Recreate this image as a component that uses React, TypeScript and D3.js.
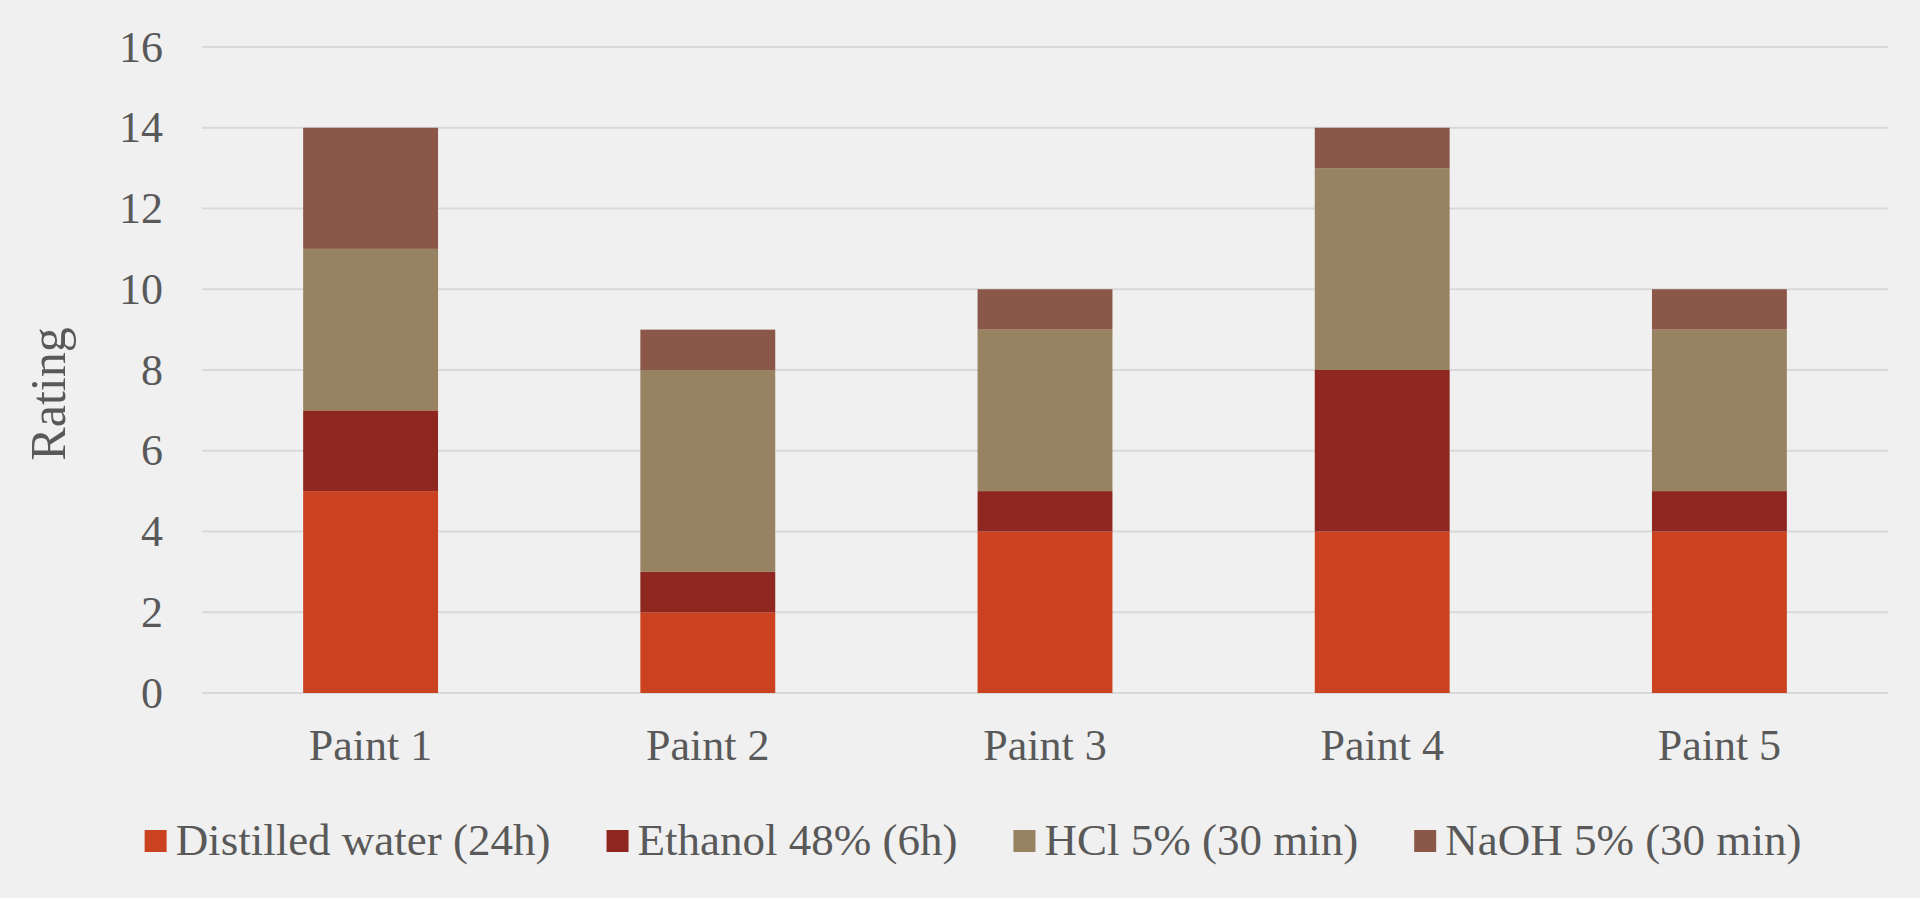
import { useEffect, useRef } from "react";
import * as d3 from "d3";

// Dados
const categorias = ["Paint 1", "Paint 2", "Paint 3", "Paint 4", "Paint 5"];
const series = [
  "Distilled water (24h)",
  "Ethanol 48% (6h)",
  "HCl 5% (30 min)",
  "NaOH 5% (30 min)"
];
const aguaDestilada = [5, 2, 4, 4, 4];
const etanol = [2, 1, 1, 4, 1];
const hcl = [4, 5, 4, 5, 4];
const naoh = [3, 1, 1, 1, 1];
const yTicks = [0, 2, 4, 6, 8, 10, 12, 14, 16];

const CORES = ["#CA4220", "#8E271F", "#978262", "#8A5748"];
const FONTE = "'Liberation Serif', 'Times New Roman', serif";
const COR_TEXTO = "#595959";

const App = () => {
  const svgRef = useRef<SVGSVGElement>(null);

  useEffect(() => {
    if (!svgRef.current) return;
    document.body.style.margin = "0";

    const width = 1920;
    const height = 898;
    const margin = { top: 47, right: 32, bottom: 205, left: 202 };
    const innerWidth = width - margin.left - margin.right;
    const innerHeight = height - margin.top - margin.bottom;

    const svg = d3.select(svgRef.current);
    svg.selectAll("*").remove();

    svg.append("rect")
      .attr("width", width)
      .attr("height", height)
      .attr("fill", "#F0F0F0");

    const g = svg.append("g")
      .attr("transform", `translate(${margin.left},${margin.top})`);

    const xScale = d3.scaleBand()
      .domain(categorias)
      .range([0, innerWidth])
      .paddingInner(0.6)
      .paddingOuter(0.3);

    const yScale = d3.scaleLinear()
      .domain([0, 16])
      .range([innerHeight, 0]);

    // Grade horizontal
    g.append("g")
      .selectAll("line")
      .data(yTicks)
      .enter()
      .append("line")
      .attr("x1", 0)
      .attr("x2", innerWidth)
      .attr("y1", (d) => yScale(d))
      .attr("y2", (d) => yScale(d))
      .attr("stroke", "#D9D9D9")
      .attr("stroke-width", 2);

    // Rótulos do eixo Y
    g.append("g")
      .selectAll("text")
      .data(yTicks)
      .enter()
      .append("text")
      .attr("x", -39)
      .attr("y", (d) => yScale(d))
      .attr("dy", "0.33em")
      .attr("text-anchor", "end")
      .style("font-family", FONTE)
      .style("font-size", "44px")
      .attr("fill", COR_TEXTO)
      .text((d) => String(d));

    // Empilhamento
    const tabela = categorias.map((c, i) => ({
      categoria: c,
      s0: aguaDestilada[i],
      s1: etanol[i],
      s2: hcl[i],
      s3: naoh[i]
    }));
    const stack = d3.stack<any>().keys(["s0", "s1", "s2", "s3"]);
    const camadas = stack(tabela);

    camadas.forEach((camada, idx) => {
      g.append("g")
        .selectAll("rect")
        .data(camada)
        .enter()
        .append("rect")
        .attr("x", (d) => xScale(d.data.categoria) ?? 0)
        .attr("width", xScale.bandwidth())
        .attr("y", (d) => yScale(d[1]))
        .attr("height", (d) => yScale(d[0]) - yScale(d[1]))
        .attr("fill", CORES[idx]);
    });

    // Rótulos do eixo X
    g.append("g")
      .selectAll("text")
      .data(categorias)
      .enter()
      .append("text")
      .attr("x", (d) => (xScale(d) ?? 0) + xScale.bandwidth() / 2)
      .attr("y", innerHeight + 67)
      .attr("text-anchor", "middle")
      .style("font-family", FONTE)
      .style("font-size", "44px")
      .attr("fill", COR_TEXTO)
      .text((d) => d);

    // Título do eixo Y
    svg.append("text")
      .attr("transform", `translate(65,${margin.top + innerHeight / 2 + 24}) rotate(-90)`)
      .attr("text-anchor", "middle")
      .style("font-family", FONTE)
      .style("font-size", "50px")
      .attr("fill", COR_TEXTO)
      .text("Rating");

    // Legenda
    const legenda = svg.append("g");
    const itens = series.map((s, i) => {
      const item = legenda.append("g");
      item.append("rect")
        .attr("x", 0)
        .attr("y", -25)
        .attr("width", 22)
        .attr("height", 22)
        .attr("fill", CORES[i]);
      const txt = item.append("text")
        .attr("x", 31)
        .attr("y", 0)
        .style("font-family", FONTE)
        .style("font-size", "45px")
        .attr("fill", COR_TEXTO)
        .text(s);
      const w = (txt.node() as SVGTextElement).getComputedTextLength();
      return { item, w: 31 + w };
    });
    const gap = 56;
    const total = d3.sum(itens, (d) => d.w) + gap * (itens.length - 1);
    let x = 973 - total / 2;
    itens.forEach(({ item, w }) => {
      item.attr("transform", `translate(${x},855)`);
      x += w + gap;
    });
  }, []);

  return (
    <svg
      ref={svgRef}
      width={1920}
      height={898}
      style={{ position: "absolute", left: 0, top: 0, display: "block" }}
    />
  );
};

export default App;
